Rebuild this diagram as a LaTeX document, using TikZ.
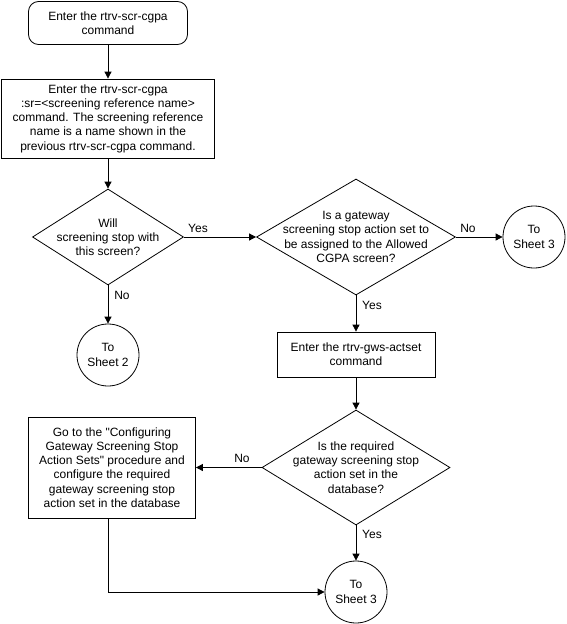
\documentclass[tikz,border=0pt]{standalone}
\usepackage{fontspec}
\setmainfont{Liberation Sans}
\usetikzlibrary{shapes.geometric, arrows.meta, positioning}
\newcommand{\chartfont}{\fontsize{12pt}{14.2pt}\selectfont}
\tikzset{
    % Node styles
    startbox/.style={
        rectangle,
        rounded corners=10pt,
        draw=black,
        line width=0.8pt,
        minimum width=159pt,
        minimum height=43pt,
        align=center,
        font=\chartfont
    },
    cmdbox/.style={
        rectangle,
        draw=black,
        line width=0.8pt,
        inner sep=2pt,
        align=center,
        font=\chartfont
    },
    decision/.style={
        diamond,
        draw=black,
        line width=0.8pt,
        inner sep=0pt
    },
    decisiontext/.style={
        inner sep=0pt,
        align=center,
        font=\chartfont
    },
    sheetcircle/.style={
        circle,
        draw=black,
        line width=0.8pt,
        minimum size=62pt,
        inner sep=0pt,
        align=center,
        font=\chartfont
    },
    % Arrow styles
    myarrow/.style={
        -{Triangle[length=7pt,width=7pt]},
        line width=0.8pt
    },
    branchlabel/.style={
        inner sep=0pt,
        font=\chartfont
    }
}

\begin{document}
\begin{tikzpicture}[x=1pt, y=-1pt]
    \useasboundingbox (0,0) rectangle (566,624);

    % Left column
    \node[startbox] (start) at (108,23) {Enter the rtrv-scr-cgpa\\command};
    \node[cmdbox,minimum width=213pt,minimum height=79pt] (srcmd) at (108,118.5) {
        Enter the rtrv-scr-cgpa\\
        :sr=<screening reference name>\\
        command. The screening reference\\
        name is a name shown in the\\
        previous rtrv-scr-cgpa command.};
    \node[decision,minimum width=151pt,minimum height=96pt] (willstop) at (108,237) {};
    \node[decisiontext] (willstoptxt) at (willstop) {Will\\screening stop with\\this screen?};
    \node[sheetcircle] (sheettwo) at (108,355) {To\\Sheet 2};

    % Right column
    \node[decision,minimum width=199pt,minimum height=116pt] (gwsq) at (356,237) {};
    \node[decisiontext] (gwsqtxt) at (gwsq) {Is a gateway\\screening stop action set to\\be assigned to the Allowed\\CGPA screen?};
    \node[sheetcircle] (sheetthreea) at (534,237) {To\\Sheet 3};
    \node[cmdbox,minimum width=158pt,minimum height=45pt] (gwscmd) at (356,354.5) {Enter the rtrv-gws-actset\\command};
    \node[decision,minimum width=188pt,minimum height=115pt] (reqset) at (356,467.5) {};
    \node[decisiontext] (reqsettxt) at (reqset) {Is the required\\gateway screening stop\\action set in the\\database?};
    \node[cmdbox,minimum width=167pt,minimum height=101pt] (config) at (112,467.5) {
        Go to the \textquotedbl Configuring\\
        Gateway Screening Stop\\
        Action Sets\textquotedbl{} procedure and\\
        configure the required\\
        gateway screening stop\\
        action set in the database};
    \node[sheetcircle] (sheetthreeb) at (356,592) {To\\Sheet 3};

    % Arrows
    \draw[myarrow] (start) -- (srcmd);
    \draw[myarrow] (srcmd) -- (willstop);
    \draw[myarrow] (willstop) -- (gwsq);
    \draw[myarrow] (willstop) -- (sheettwo);
    \draw[myarrow] (gwsq) -- (sheetthreea);
    \draw[myarrow] (gwsq) -- (gwscmd);
    \draw[myarrow] (gwscmd) -- (reqset);
    \draw[myarrow] (reqset) -- (config);
    \draw[myarrow] (reqset) -- (sheetthreeb);
    \draw[myarrow] (config.south -| willstop.south) |- (sheetthreeb);

    % Branch labels
    \node[branchlabel] (yesone) at (198,228) {Yes};
    \node[branchlabel] (noone) at (122,295) {No};
    \node[branchlabel] (notwo) at (468,228) {No};
    \node[branchlabel] (yestwo) at (372,305) {Yes};
    \node[branchlabel] (nothree) at (242,458) {No};
    \node[branchlabel] (yesthree) at (372,534) {Yes};
\end{tikzpicture}
\end{document}
